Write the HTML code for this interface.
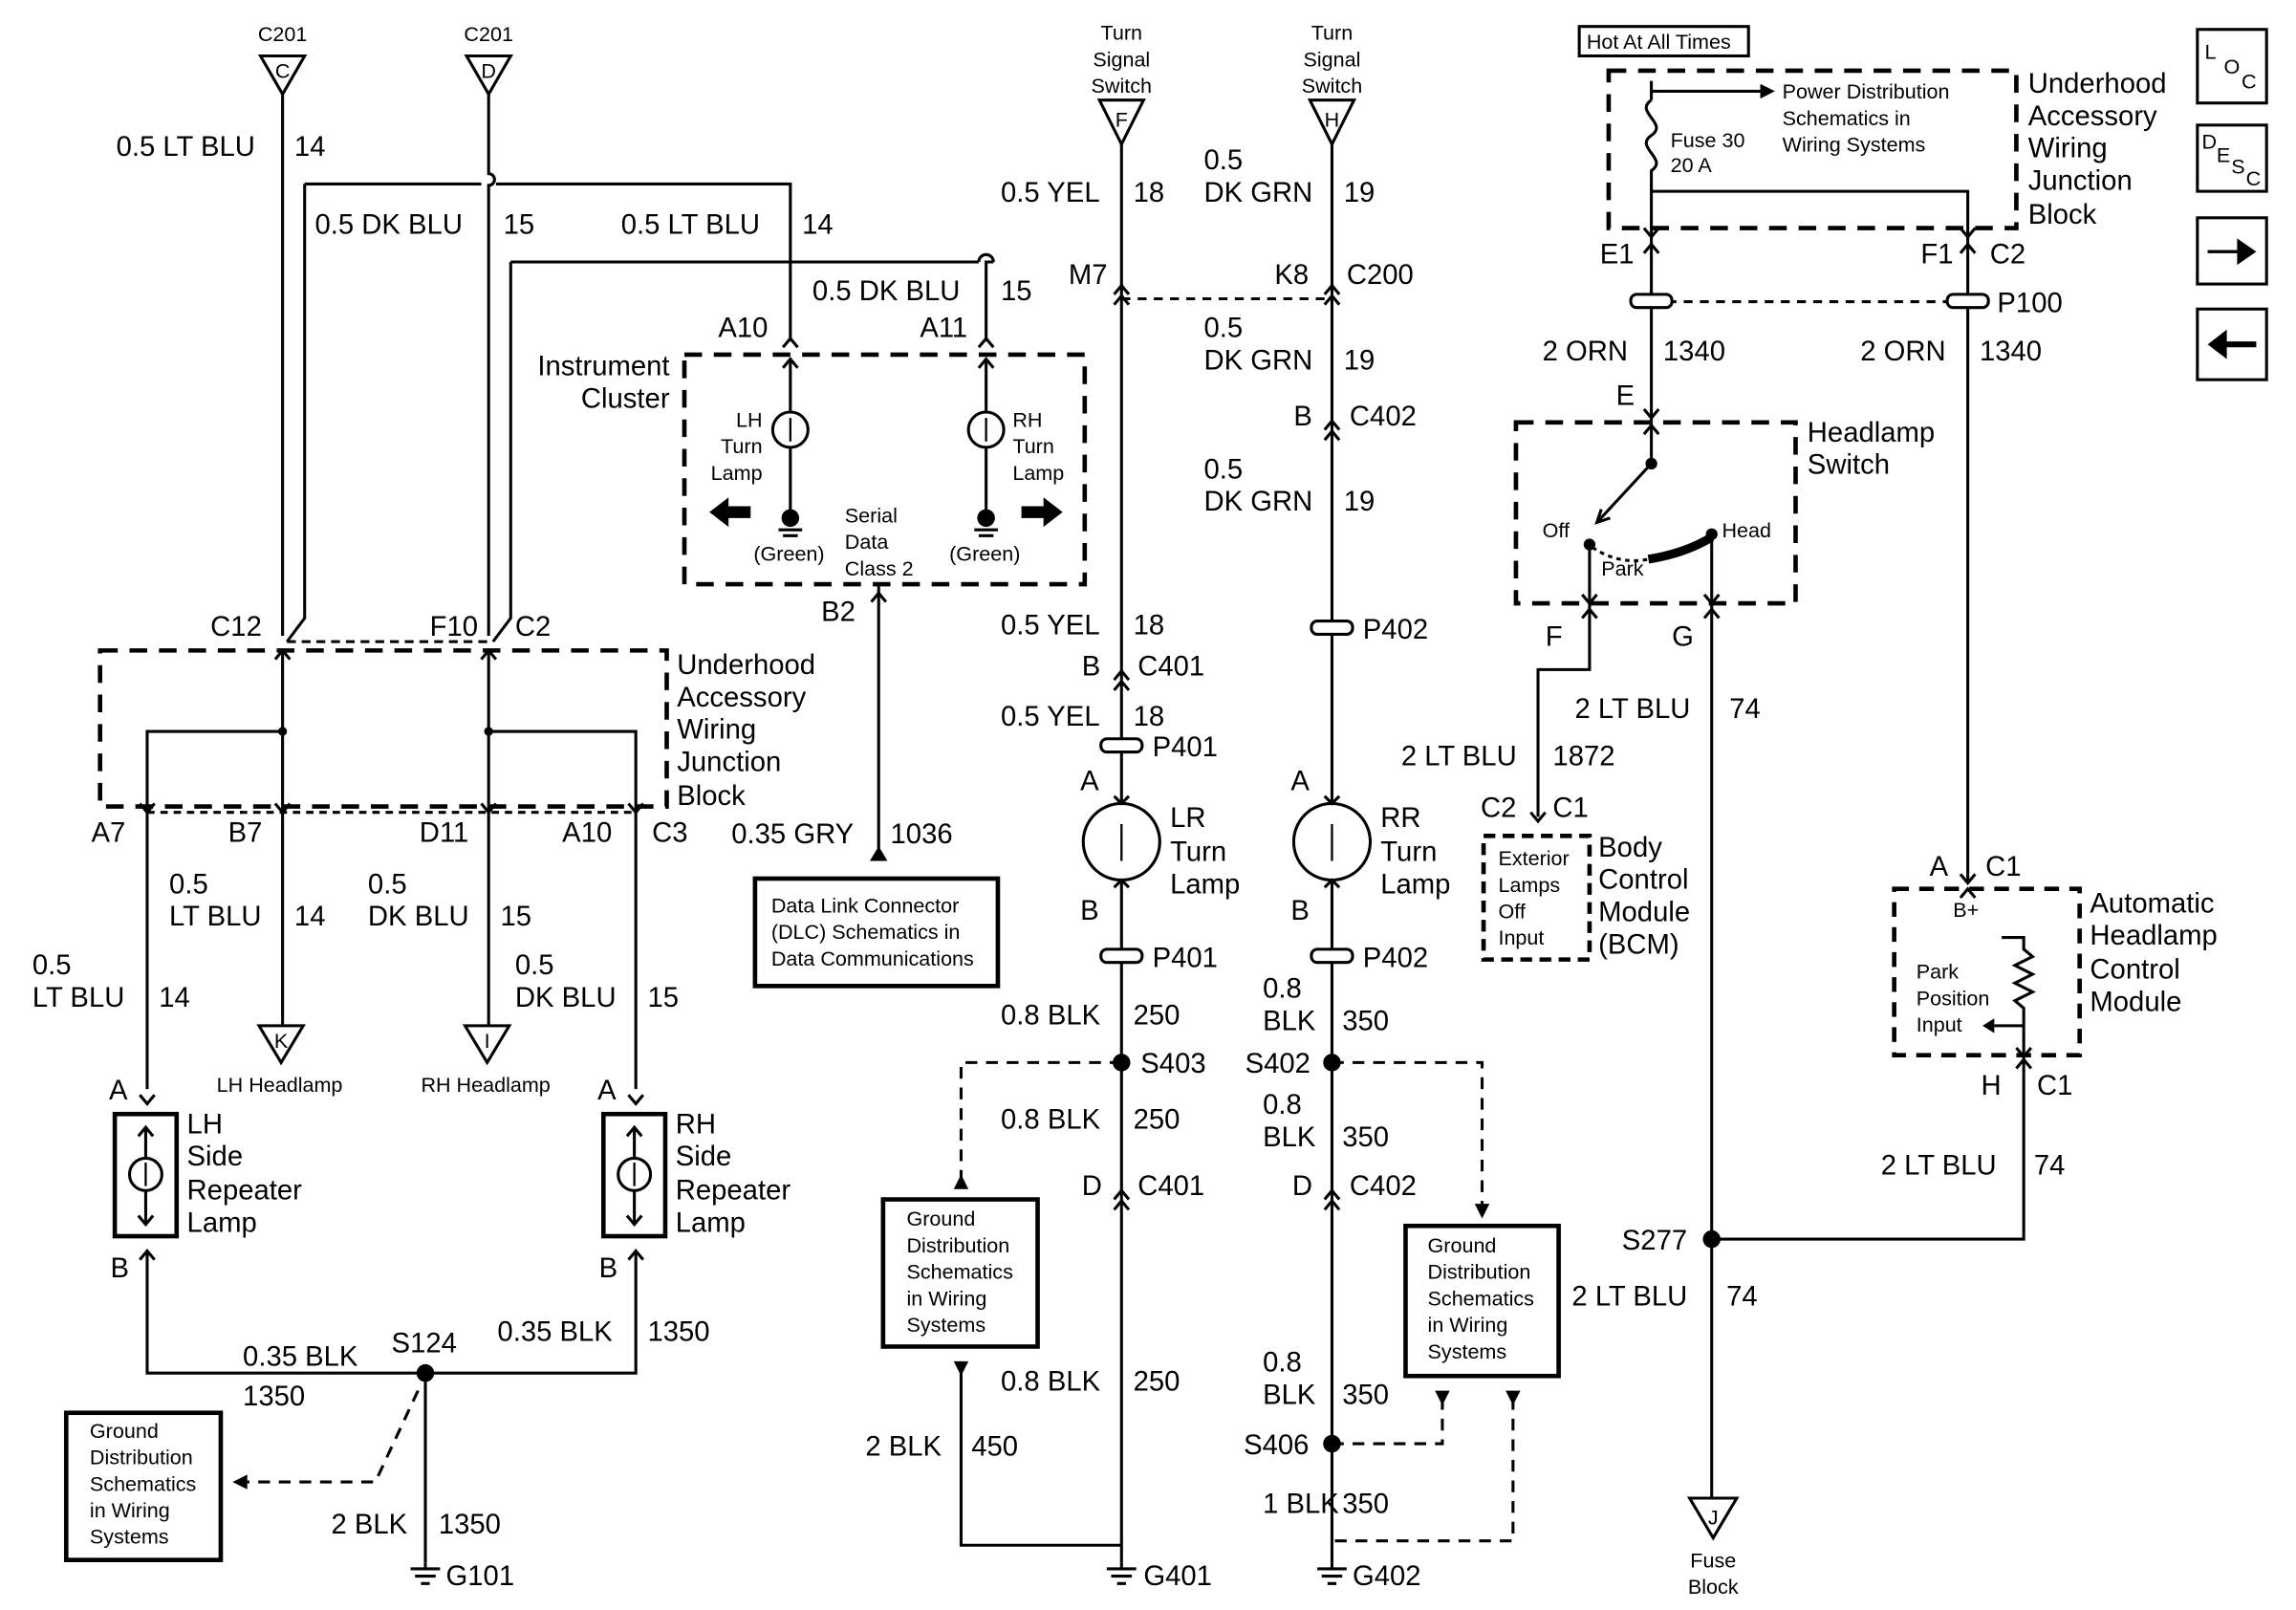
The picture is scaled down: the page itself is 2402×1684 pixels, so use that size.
<!DOCTYPE html>
<html><head><meta charset="utf-8"><style>
html,body{margin:0;padding:0;background:#fff}
svg{display:block}
text{font-family:"Liberation Sans",Arial,sans-serif;fill:#000}
.l{font-size:19px}
.s{font-size:14px}
.m{font-size:16px}
</style></head><body>
<svg width="2402" height="1684" viewBox="0 0 1560 1094" preserveAspectRatio="none" xmlns="http://www.w3.org/2000/svg">
<rect width="1560" height="1094" fill="#fff"/>
<g stroke="#000" stroke-width="2" fill="none">
<!-- C201 connectors -->
<polygon points="177,38 207,38 192,64"/>
<polygon points="317,38 347,38 332,64"/>
<line x1="192" y1="64" x2="192" y2="432"/>
<path d="M332,64 V118 a4,4 0 0 1 0,8 V432"/>
<path d="M207,125 H327 M337,125 H537 V232"/>
<path d="M207,125 V420 L195,436"/>
<path d="M347,178 H665 M675,178 H670 V232"/>
<path d="M665,178 a5,5 0 0 1 10,0"/>
<path d="M347,178 V420 L335,436"/>
<!-- junction block -->
<rect x="68" y="442" width="385" height="106" stroke-dasharray="12,8" stroke-width="3"/>
<line x1="195" y1="436" x2="332" y2="436" stroke-dasharray="6,4"/>
<line x1="192" y1="442" x2="192" y2="697"/>
<line x1="332" y1="442" x2="332" y2="697"/>
<path d="M192,497 H100 V740"/>
<path d="M332,497 H432 V740"/>
<line x1="100" y1="552" x2="432" y2="552" stroke-dasharray="5,4"/>
<!-- headlamp triangles -->
<polygon points="176,697 206,697 191,722"/>
<polygon points="316,697 346,697 331,722"/>
<!-- side repeater -->
<rect x="78" y="757" width="42" height="83" stroke-width="3"/>
<rect x="410" y="757" width="42" height="83" stroke-width="3"/>
<circle cx="99" cy="798" r="11"/><circle cx="431" cy="798" r="11"/>
<path d="M99,766 V787 M99,809 V832 M94,772 L99,766 L104,772 M94,826 L99,832 L104,826"/>
<path d="M431,766 V787 M431,809 V832 M426,772 L431,766 L436,772 M426,826 L431,832 L436,826"/>
<path d="M100,850 V933 H432 V850"/>
<line x1="289" y1="933" x2="289" y2="1062"/>
<rect x="45" y="960" width="105" height="100" stroke-width="3"/>
<path d="M284,945 L255,1007 H168" stroke-dasharray="8,6"/>
<!-- instrument cluster -->
<rect x="465" y="241" width="272" height="156" stroke-dasharray="12,8" stroke-width="3"/>
<circle cx="537" cy="292" r="12"/><circle cx="670" cy="292" r="12"/>
<path d="M537,245 V280 M537,304 V350 M670,245 V280 M670,304 V350"/>
<path d="M597,397 V585"/>
<rect x="513" y="597" width="165" height="73" stroke-width="3"/>
<!-- middle wires -->
<polygon points="747,68 777,68 762,98"/>
<polygon points="890,68 920,68 905,98"/>
<line x1="762" y1="98" x2="762" y2="1062"/>
<line x1="905" y1="98" x2="905" y2="1062"/>
<line x1="762" y1="203" x2="905" y2="203" stroke-dasharray="6,5"/>
<circle cx="762" cy="572" r="26" fill="#fff"/>
<circle cx="905" cy="572" r="26" fill="#fff"/>
<path d="M762,722 H653 V800" stroke-dasharray="8,6"/>
<rect x="600" y="815" width="105" height="100" stroke-width="3"/>
<path d="M653,925 V1050 H762"/>
<path d="M905,722 H1007 V818" stroke-dasharray="8,6"/>
<rect x="955" y="833" width="104" height="102" stroke-width="3"/>
<path d="M905,981 H980 V950" stroke-dasharray="8,6"/>
<path d="M1028,950 V1047 H905" stroke-dasharray="8,6"/>
<!-- right section -->
<rect x="1073" y="18" width="115" height="20" stroke-width="2"/>
<rect x="1093" y="48" width="277" height="107" stroke-dasharray="12,8" stroke-width="3"/>
<path d="M1122,55 V68 M1122,62 H1196"/>
<path d="M1122,68 c-12,8 12,16 0,24 c-12,8 12,16 0,24 V160"/>
<path d="M1122,130 H1337 V160"/>
<line x1="1122" y1="160" x2="1122" y2="287"/>
<line x1="1337" y1="160" x2="1337" y2="600"/>
<line x1="1122" y1="205" x2="1337" y2="205" stroke-dasharray="6,5"/>
<rect x="1030" y="287" width="190" height="123" stroke-dasharray="12,8" stroke-width="3"/>
<path d="M1122,287 V315 L1085,355"/>
<path d="M1080,370 V410 M1163,363 V410"/>
<path d="M1082,372 Q1100,384 1120,380" stroke-dasharray="3,3"/>
<path d="M1120,380 Q1145,376 1163,365" stroke-width="6"/>
<path d="M1080,410 V455 H1045 V555"/>
<line x1="1163" y1="410" x2="1163" y2="1018"/>
<polygon points="1148,1018 1180,1018 1164,1045"/>
<rect x="1008" y="568" width="72" height="84" stroke-dasharray="8,5" stroke-width="3"/>
<rect x="1287" y="604" width="126" height="113" stroke-dasharray="10,7" stroke-width="3"/>
<path d="M1360,637 H1375 V645 l6,5 -12,6 12,6 -12,6 12,6 -12,6 6,5 V730"/>
<path d="M1375,697 H1355"/>
<path d="M1375,730 V842 H1163"/>
<!-- icons -->
<rect x="1493" y="20" width="47" height="50"/>
<rect x="1493" y="85" width="47" height="45"/>
<rect x="1493" y="148" width="47" height="45"/>
<rect x="1493" y="210" width="47" height="48"/>
</g>
<!-- connector chevrons -->
<g stroke="#000" stroke-width="2" fill="none">
<path d="M532,236 L537,230 L542,236 M665,236 L670,230 L675,236 M532,250 L537,244 L542,250 M665,250 L670,244 L675,250"/>
<path d="M187,448 L192,442 L197,448 M327,448 L332,442 L337,448 M95,546 L100,552 L105,546 M187,546 L192,552 L197,546 M327,546 L332,552 L337,546 M427,546 L432,552 L437,546"/>
<path d="M95,856 L100,850 L105,856 M427,856 L432,850 L437,856 M95,744 L100,750 L105,744 M427,744 L432,750 L437,744"/>
<path d="M757,200 L762,194 L767,200 M757,207 L762,201 L767,207 M900,200 L905,194 L910,200 M900,207 L905,201 L910,207"/>
<path d="M757,462 L762,456 L767,462 M757,469 L762,463 L767,469 M900,292 L905,286 L910,292 M900,299 L905,293 L910,299"/>
<path d="M757,541 L762,546 L767,541 M757,603 L762,598 L767,603 M900,541 L905,546 L910,541 M900,603 L905,598 L910,603"/>
<path d="M757,815 L762,809 L767,815 M757,822 L762,816 L767,822 M900,815 L905,809 L910,815 M900,822 L905,816 L910,822"/>
<path d="M1117,155 L1122,161 L1127,155 M1332,155 L1337,161 L1342,155 M1117,172 L1122,166 L1127,172 M1332,172 L1337,166 L1342,172"/>
<path d="M1117,278 L1122,284 L1127,278 M1117,295 L1122,289 L1127,295 M1075,404 L1080,410 L1085,404 M1158,404 L1163,410 L1168,404 M1075,420 L1080,414 L1085,420 M1158,420 L1163,414 L1168,420"/>
<path d="M1040,552 L1045,558 L1050,552 M1332,594 L1337,600 L1342,594 M1332,610 L1337,604 L1342,610 M1370,712 L1375,718 L1380,712 M1370,726 L1375,720 L1380,726"/>
<path d="M1088,346 L1085,355 L1094,352"/>
<path d="M592,409 L597,403 L602,409"/>
</g>
<!-- pills -->
<g fill="#fff" stroke="#000" stroke-width="2">
<rect x="748" y="502" width="28" height="9" rx="4"/><rect x="748" y="645" width="28" height="9" rx="4"/>
<rect x="891" y="422" width="28" height="9" rx="4"/><rect x="891" y="645" width="28" height="9" rx="4"/>
<rect x="1108" y="200" width="28" height="9" rx="4"/><rect x="1323" y="200" width="28" height="9" rx="4"/>
</g>
<!-- dots & arrows -->
<g fill="#000">
<circle cx="192" cy="497" r="3"/><circle cx="332" cy="497" r="3"/>
<circle cx="289" cy="933" r="6"/><circle cx="762" cy="722" r="6"/><circle cx="905" cy="722" r="6"/><circle cx="905" cy="981" r="6"/><circle cx="1163" cy="842" r="6"/>
<circle cx="1122" cy="315" r="4"/><circle cx="1080" cy="370" r="4"/><circle cx="1163" cy="363" r="4"/>
<circle cx="537" cy="352" r="6"/><circle cx="670" cy="352" r="6"/>
<polygon points="482,348 495,338 495,344 510,344 510,352 495,352 495,358"/>
<polygon points="722,348 709,338 709,344 694,344 694,352 709,352 709,358"/>
<polygon points="1500,170 1520,170 1520,162 1533,171 1520,180 1520,172 1500,172" transform="translate(0,0)"/>
<polygon points="1533,232 1513,232 1513,224 1500,234 1513,244 1513,236 1533,236"/>
<polygon points="591,585 603,585 597,575"/>
<polygon points="648,808 658,808 653,798"/>
<polygon points="648,925 658,925 653,935"/>
<polygon points="1002,818 1012,818 1007,828"/>
<polygon points="975,945 985,945 980,955"/>
<polygon points="1023,945 1033,945 1028,955"/>
<polygon points="168,1002 168,1012 158,1007"/>
<polygon points="1196,57 1196,67 1206,62"/>
<polygon points="1355,692 1355,702 1347,697"/>
</g>
<g stroke="#000" stroke-width="2">
<path d="M1500,171 H1520"/>
<path d="M279,1066 H299 M282,1071 H296 M286,1076 H292 M752,1066 H772 M755,1071 H769 M759,1076 H765 M895,1066 H915 M898,1071 H912 M902,1076 H908 M529,360 H545 M532,364 H542 M662,360 H678 M665,364 H675"/>
<path d="M289,1062 V1066 M762,1062 V1066 M905,1062 V1066"/>
<path d="M537,284 V300 M670,284 V300 M762,560 V585 M905,560 V585 M99,790 V806 M431,790 V806" stroke-width="1.5"/>
</g>
<!-- Text -->
<g class="m" text-anchor="middle">
<text x="192" y="28" class="s">C201</text><text x="332" y="28" class="s">C201</text>
<text x="192" y="53" class="s">C</text><text x="332" y="53" class="s">D</text>
<text x="762" y="27" class="s">Turn</text><text x="762" y="45" class="s">Signal</text><text x="762" y="63" class="s">Switch</text>
<text x="905" y="27" class="s">Turn</text><text x="905" y="45" class="s">Signal</text><text x="905" y="63" class="s">Switch</text>
<text x="762" y="86" class="s">F</text><text x="905" y="86" class="s">H</text>
<text x="191" y="712" class="s">K</text><text x="331" y="712" class="s">I</text>
<text x="1164" y="1036" class="s">J</text>
<text x="190" y="742" class="s">LH Headlamp</text><text x="330" y="742" class="s">RH Headlamp</text>
<text x="1164" y="1065" class="s">Fuse</text><text x="1164" y="1083" class="s">Block</text>
</g>
<g class="l">
<text x="79" y="106">0.5 LT BLU</text><text x="200" y="106">14</text>
<text x="214" y="159">0.5 DK BLU</text><text x="342" y="159">15</text>
<text x="422" y="159">0.5 LT BLU</text><text x="545" y="159">14</text>
<text x="552" y="204">0.5 DK BLU</text><text x="680" y="204">15</text>
<text x="488" y="229">A10</text><text x="625" y="229">A11</text>
<text x="455" y="255" text-anchor="end">Instrument</text><text x="455" y="277" text-anchor="end">Cluster</text>
<text x="143" y="432">C12</text><text x="292" y="432">F10</text><text x="350" y="432">C2</text>
<text x="460" y="458">Underhood</text><text x="460" y="480">Accessory</text><text x="460" y="502">Wiring</text><text x="460" y="524">Junction</text><text x="460" y="547">Block</text>
<text x="62" y="572">A7</text><text x="155" y="572">B7</text><text x="285" y="572">D11</text><text x="382" y="572">A10</text><text x="443" y="572">C3</text>
<text x="115" y="607">0.5</text><text x="115" y="629">LT BLU</text><text x="200" y="629">14</text>
<text x="250" y="607">0.5</text><text x="250" y="629">DK BLU</text><text x="340" y="629">15</text>
<text x="22" y="662">0.5</text><text x="22" y="684">LT BLU</text><text x="108" y="684">14</text>
<text x="350" y="662">0.5</text><text x="350" y="684">DK BLU</text><text x="440" y="684">15</text>
<text x="74" y="747">A</text><text x="406" y="747">A</text>
<text x="127" y="770">LH</text><text x="127" y="792">Side</text><text x="127" y="815">Repeater</text><text x="127" y="837">Lamp</text>
<text x="459" y="770">RH</text><text x="459" y="792">Side</text><text x="459" y="815">Repeater</text><text x="459" y="837">Lamp</text>
<text x="75" y="868">B</text><text x="407" y="868">B</text>
<text x="165" y="928">0.35 BLK</text><text x="165" y="955">1350</text><text x="266" y="919">S124</text>
<text x="338" y="911">0.35 BLK</text><text x="440" y="911">1350</text>
<text x="225" y="1042">2 BLK</text><text x="298" y="1042">1350</text><text x="303" y="1077">G101</text>
<text x="558" y="422">B2</text>
<text x="497" y="573">0.35 GRY</text><text x="605" y="573">1036</text>
<text x="680" y="137">0.5 YEL</text><text x="770" y="137">18</text>
<text x="818" y="115">0.5</text><text x="818" y="137">DK GRN</text><text x="913" y="137">19</text>
<text x="726" y="193">M7</text><text x="866" y="193">K8</text><text x="915" y="193">C200</text>
<text x="818" y="229">0.5</text><text x="818" y="251">DK GRN</text><text x="913" y="251">19</text>
<text x="879" y="289">B</text><text x="917" y="289">C402</text>
<text x="818" y="325">0.5</text><text x="818" y="347">DK GRN</text><text x="913" y="347">19</text>
<text x="926" y="434">P402</text>
<text x="680" y="431">0.5 YEL</text><text x="770" y="431">18</text>
<text x="735" y="459">B</text><text x="773" y="459">C401</text>
<text x="680" y="493">0.5 YEL</text><text x="770" y="493">18</text>
<text x="783" y="514">P401</text>
<text x="734" y="537">A</text><text x="877" y="537">A</text>
<text x="795" y="562">LR</text><text x="795" y="585">Turn</text><text x="795" y="607">Lamp</text>
<text x="938" y="562">RR</text><text x="938" y="585">Turn</text><text x="938" y="607">Lamp</text>
<text x="734" y="625">B</text><text x="877" y="625">B</text>
<text x="783" y="657">P401</text><text x="926" y="657">P402</text>
<text x="680" y="696">0.8 BLK</text><text x="770" y="696">250</text>
<text x="858" y="678">0.8</text><text x="858" y="700">BLK</text><text x="912" y="700">350</text>
<text x="775" y="729">S403</text><text x="846" y="729">S402</text>
<text x="680" y="767">0.8 BLK</text><text x="770" y="767">250</text>
<text x="858" y="757">0.8</text><text x="858" y="779">BLK</text><text x="912" y="779">350</text>
<text x="735" y="812">D</text><text x="773" y="812">C401</text><text x="878" y="812">D</text><text x="917" y="812">C402</text>
<text x="680" y="945">0.8 BLK</text><text x="770" y="945">250</text>
<text x="858" y="932">0.8</text><text x="858" y="954">BLK</text><text x="912" y="954">350</text>
<text x="588" y="989">2 BLK</text><text x="660" y="989">450</text>
<text x="845" y="988">S406</text>
<text x="858" y="1028">1 BLK</text><text x="912" y="1028">350</text>
<text x="777" y="1077">G401</text><text x="919" y="1077">G402</text>
<text x="1378" y="63">Underhood</text><text x="1378" y="85">Accessory</text><text x="1378" y="107">Wiring</text><text x="1378" y="129">Junction</text><text x="1378" y="152">Block</text>
<text x="1087" y="179">E1</text><text x="1305" y="179">F1</text><text x="1352" y="179">C2</text>
<text x="1357" y="212">P100</text>
<text x="1048" y="245">2 ORN</text><text x="1130" y="245">1340</text>
<text x="1264" y="245">2 ORN</text><text x="1345" y="245">1340</text>
<text x="1098" y="275">E</text>
<text x="1228" y="300">Headlamp</text><text x="1228" y="322">Switch</text>
<text x="1050" y="439">F</text><text x="1136" y="439">G</text>
<text x="1070" y="488">2 LT BLU</text><text x="1175" y="488">74</text>
<text x="952" y="520">2 LT BLU</text><text x="1055" y="520">1872</text>
<text x="1006" y="555">C2</text><text x="1055" y="555">C1</text>
<text x="1086" y="582">Body</text><text x="1086" y="604">Control</text><text x="1086" y="626">Module</text><text x="1086" y="648">(BCM)</text>
<text x="1311" y="595">A</text><text x="1349" y="595">C1</text>
<text x="1420" y="620">Automatic</text><text x="1420" y="642">Headlamp</text><text x="1420" y="665">Control</text><text x="1420" y="687">Module</text>
<text x="1346" y="744">H</text><text x="1384" y="744">C1</text>
<text x="1278" y="798">2 LT BLU</text><text x="1382" y="798">74</text>
<text x="1102" y="849">S277</text>
<text x="1068" y="887">2 LT BLU</text><text x="1173" y="887">74</text>
</g>
<g class="s">
<text x="518" y="290" text-anchor="end">LH</text><text x="518" y="308" text-anchor="end">Turn</text><text x="518" y="326" text-anchor="end">Lamp</text>
<text x="688" y="290">RH</text><text x="688" y="308">Turn</text><text x="688" y="326">Lamp</text>
<text x="512" y="381">(Green)</text><text x="645" y="381">(Green)</text>
<text x="574" y="355">Serial</text><text x="574" y="373">Data</text><text x="574" y="391">Class 2</text>
<text x="524" y="620">Data Link Connector</text><text x="524" y="638">(DLC) Schematics in</text><text x="524" y="656">Data Communications</text>
<text x="61" y="977">Ground</text><text x="61" y="995">Distribution</text><text x="61" y="1013">Schematics</text><text x="61" y="1031">in Wiring</text><text x="61" y="1049">Systems</text>
<text x="616" y="833">Ground</text><text x="616" y="851">Distribution</text><text x="616" y="869">Schematics</text><text x="616" y="887">in Wiring</text><text x="616" y="905">Systems</text>
<text x="970" y="851">Ground</text><text x="970" y="869">Distribution</text><text x="970" y="887">Schematics</text><text x="970" y="905">in Wiring</text><text x="970" y="923">Systems</text>
<text x="1078" y="33">Hot At All Times</text>
<text x="1211" y="67">Power Distribution</text><text x="1211" y="85">Schematics in</text><text x="1211" y="103">Wiring Systems</text>
<text x="1135" y="100">Fuse 30</text><text x="1135" y="117">20 A</text>
<text x="1048" y="365">Off</text><text x="1170" y="365">Head</text><text x="1088" y="391">Park</text>
<text x="1018" y="588">Exterior</text><text x="1018" y="606">Lamps</text><text x="1018" y="624">Off</text><text x="1018" y="642">Input</text>
<text x="1327" y="623">B+</text>
<text x="1302" y="665">Park</text><text x="1302" y="683">Position</text><text x="1302" y="701">Input</text>
<text x="1498" y="40">L</text><text x="1511" y="50">O</text><text x="1523" y="60">C</text>
<text x="1496" y="101">D</text><text x="1506" y="110">E</text><text x="1516" y="118">S</text><text x="1526" y="126">C</text>
</g>
</svg>
</body></html>
